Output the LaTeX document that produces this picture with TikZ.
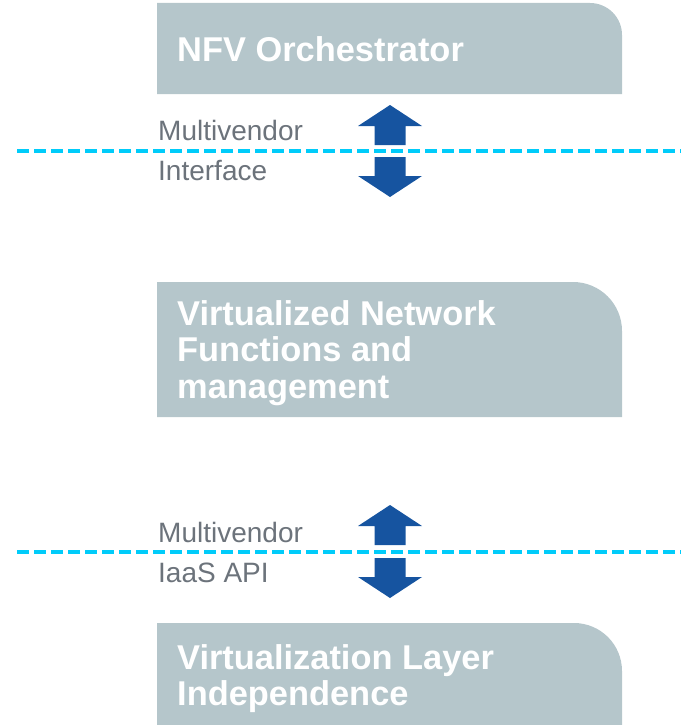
\documentclass[tikz,border=0pt]{standalone}
\usepackage{fontspec}
\setmainfont{Liberation Sans}
\definecolor{boxfill}{RGB}{181,198,203}
\definecolor{arrowblue}{RGB}{22,84,160}
\definecolor{dashcyan}{RGB}{0,204,250}
\definecolor{labelgray}{RGB}{108,115,123}
\tikzset{
  boxshape/.style={fill=boxfill},
  titletext/.style={text=white, font=\fontsize{34.4}{36.5}\selectfont\bfseries, inner sep=0pt, anchor=base west, align=left},
  lbl/.style={text=labelgray, font=\fontsize{28}{30}\selectfont, inner sep=0pt, anchor=base west},
  dashline/.style={draw=dashcyan, line width=4pt, dash pattern=on 12pt off 5pt},
  arrowfill/.style={fill=arrowblue},
  uparr/.pic={\fill[arrowfill] (0,0) -- (32,21) -- (15.5,21) -- (15.5,40) -- (-15.5,40) -- (-15.5,21) -- (-32,21) -- cycle;},
  downarr/.pic={\fill[arrowfill] (0,0) -- (32,-21) -- (15.5,-21) -- (15.5,-40) -- (-15.5,-40) -- (-15.5,-21) -- (-32,-21) -- cycle;}
}
\begin{document}
\begin{tikzpicture}[x=1pt,y=-1pt]
\useasboundingbox (0,0) rectangle (688,725);
% boxes
\fill[boxshape] (157,94) -- (157,3) [rounded corners=32pt] -- (622,3) [sharp corners] -- (622,94) -- cycle;
\fill[boxshape] (157,417) -- (157,282) [rounded corners=49pt] -- (622,282) [sharp corners] -- (622,417) -- cycle;
\fill[boxshape] (157,725) -- (157,623) [rounded corners=48pt] -- (622,623) [sharp corners] -- (622,725) -- cycle;
% titles
\node[titletext] (orch) at (177,62) {NFV Orchestrator};
\node[titletext, anchor=north west] (vnf) at (177,300) {Virtualized Network\\Functions and\\management};
\node[titletext, anchor=north west] (virt) at (177,644) {Virtualization Layer\\Independence};
% dashed lines
\coordinate (d1l) at (17,151);
\coordinate (d1r) at (681,151);
\coordinate (d2l) at (17,552);
\coordinate (d2r) at (681,552);
\draw[dashline] (d1l) -- (d1r);
\draw[dashline] (d2l) -- (d2r);
% labels
\node[lbl] (mv1) at (158,140) {Multivendor};
\node[lbl] (if1) at (158,180) {Interface};
\node[lbl] (mv2) at (158,542) {Multivendor};
\node[lbl] (iaas) at (158,582) {IaaS API};
% arrows
\pic at (390,105) {uparr};
\pic at (390,197) {downarr};
\pic at (390,505) {uparr};
\pic at (390,598) {downarr};
\end{tikzpicture}
\end{document}
